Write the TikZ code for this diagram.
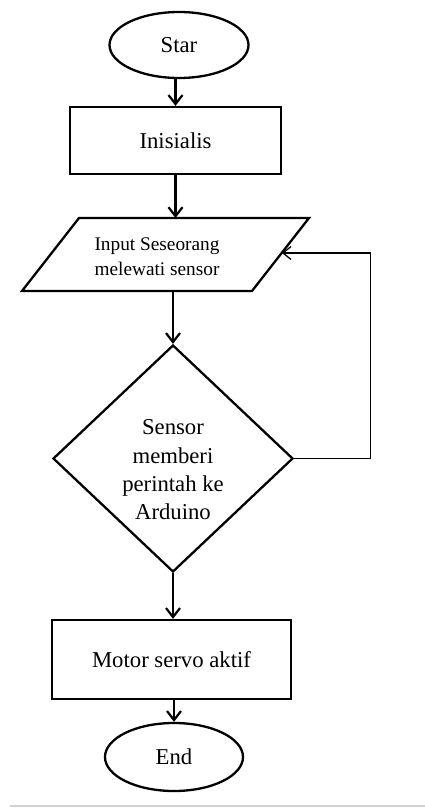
\documentclass[tikz,border=0pt]{standalone}
\usepackage{fontspec}
\setmainfont{Liberation Serif}
\usetikzlibrary{arrows.meta,shapes.geometric}
\begin{document}
\begin{tikzpicture}[x=1pt,y=-1pt,
  box/.style={draw,line width=2.3pt,inner sep=0pt},
  term/.style={box,ellipse},
  proc/.style={box,rectangle},
  dec/.style={box,diamond},
  lbl/.style={font=\fontsize{22.7}{28.3}\selectfont,align=center},
  small/.style={font=\fontsize{19.3}{25}\selectfont,align=center},
  flow/.style={line width=2.2pt,-{Straight Barb[length=9pt,width=14pt,line width=2.2pt]}},
  loopline/.style={line width=1.3pt,-{Straight Barb[length=8pt,width=13pt,line width=1.3pt]}}]
\path[use as bounding box] (0,0) rectangle (425,809);
\node[term,minimum width=139pt,minimum height=66pt,lbl] (star) at (179,45) {Star};
\node[proc,minimum width=211pt,minimum height=67pt,lbl] (ini) at (175.5,140.5) {Inisialis};
\coordinate (ptl) at (79,218);
\coordinate (ptr) at (309,218);
\coordinate (pbr) at (252,291);
\coordinate (pbl) at (22,291);
\coordinate (pin) at (282,253);
\draw[line width=2.3pt,line join=miter] (ptl) -- (ptr) -- (pbr) -- (pbl) -- cycle;
\node[small] (inp) at (157,257) {Input Seseorang\\melewati sensor};
\node[dec,minimum width=240pt,minimum height=227pt] (dia) at (173,458.5) {};
\node[lbl] (diatxt) at (173,470) {Sensor\\memberi\\perintah ke\\Arduino};
\node[proc,minimum width=239pt,minimum height=79pt,lbl] (mot) at (171.5,659.5) {Motor servo aktif};
\node[term,minimum width=138pt,minimum height=68pt,lbl] (end) at (174,757) {End};
\draw[flow] (ini.north |- star.south) -- (ini.north);
\draw[flow] (ini.south) -- (ini.south |- ptl);
\draw[flow] (dia.north |- pbl) -- (dia.north);
\draw[flow] (dia.south) -- (dia.south |- mot.north);
\draw[flow] (end.north |- mot.south) -- (end.north);
\draw[loopline] (dia.east) -- ++(76,0) |- (pin);
\draw[gray!35,line width=2pt] (10,806) -- (425,806);
\end{tikzpicture}
\end{document}
